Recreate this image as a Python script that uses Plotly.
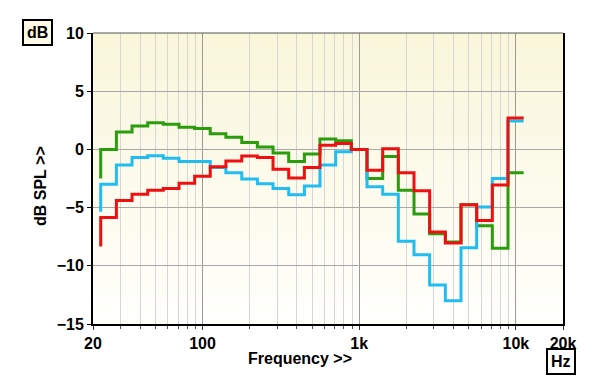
import plotly.graph_objects as go

# 1/3-octave band edges (Hz); first point is the start of the 25 Hz band
band_edges = [22.4, 28.2, 35.5, 44.7, 56.2, 70.8, 89.1, 112, 141, 178, 224, 282,
              355, 447, 562, 708, 891, 1122, 1413, 1778, 2239, 2818, 3548, 4467,
              5623, 7079, 8913, 11220]

# level (dB) — first value is the starting level, then bands 25 Hz ... 10 kHz
green_db = [-2.5, 0.0, 1.5, 2.0, 2.3, 2.15, 1.9, 1.8, 1.35, 1.05, 0.6, 0.2, -0.3,
            -1.05, -0.4, 0.9, 0.75, 0.0, -2.5, -0.6, -3.5, -5.55, -7.25, -7.95,
            -4.75, -6.55, -8.5, -2.0]
cyan_db = [-5.35, -3.0, -1.35, -0.7, -0.55, -0.75, -1.05, -1.05, -1.55, -2.0, -2.55,
           -2.95, -3.35, -3.9, -3.15, -1.35, -0.2, 0.0, -3.2, -3.85, -7.9, -9.05,
           -11.65, -13.0, -8.45, -4.95, -2.5, 2.45]
red_db = [-8.35, -5.85, -4.4, -3.85, -3.5, -3.35, -2.9, -2.3, -1.5, -1.0, -0.57,
          -0.7, -1.7, -2.45, -1.55, 0.35, 0.5, 0.0, -1.8, 0.05, -2.0, -3.55, -7.1,
          -8.05, -4.75, -6.1, -3.05, 2.7]

x_tickvals = [20, 100, 1000, 10000, 20000]
x_ticktext = ["20", "100", "1k", "10k", "20k"]
x_minor = [30, 40, 50, 60, 70, 80, 90, 200, 300, 400, 500, 600, 700, 800, 900,
           2000, 3000, 4000, 5000, 6000, 7000, 8000, 9000]
y_tickvals = [-15, -10, -5, 0, 5, 10]

series = [("green", green_db, "#2b9c0c"), ("cyan", cyan_db, "#22bdf0"),
          ("red", red_db, "#ee1010")]

fig = go.Figure()
for name, vals, col in series:
    fig.add_trace(go.Scatter(x=band_edges, y=vals, mode="lines", name=name,
                             line=dict(color=col, width=3, shape="vh"),
                             hoverinfo="skip"))

# background gradient
shapes = []
n = 30
top = (249, 246, 218)
bot = (255, 255, 252)
for i in range(n):
    t = i / (n - 1)
    c = tuple(round(top[k] + (bot[k] - top[k]) * t) for k in range(3))
    shapes.append(dict(type="rect", xref="paper", yref="paper", x0=0, x1=1,
                       y0=1 - (i + 1) / n, y1=1 - i / n, layer="below",
                       line=dict(width=0), fillcolor="rgb(%d,%d,%d)" % c))
shapes.append(dict(type="line", xref="paper", yref="paper", x0=0, x1=1, y0=1, y1=1,
                   line=dict(color="#555555", width=1)))

# plot area in screen pixels (page body has an 8px margin)
PX0, PX1, PY0, PY1 = 93, 563, 33, 324
def px(x):
    return (x - PX0) / (PX1 - PX0)
def py(y):
    return (PY1 - y) / (PY1 - PY0)

font = "Liberation Sans, Arial, sans-serif"
fig.update_layout(
    width=592, height=379,
    margin=dict(l=85, r=37, t=25, b=63),
    paper_bgcolor="white", plot_bgcolor="#fdfbea",
    showlegend=False,
    shapes=shapes,
    font=dict(family=font, size=16, color="black"),
    xaxis=dict(type="log", range=[1.30103, 4.30103],
               tickmode="array", tickvals=x_tickvals, ticktext=x_ticktext,
               tickfont=dict(family=font, size=16, color="black", weight="bold"),
               showgrid=True, gridcolor="#9a9a9a", gridwidth=1,
               ticks="outside", ticklen=4, tickcolor="#333333",
               showline=True, linecolor="black", linewidth=2, mirror=False,
               zeroline=False,
               minor=dict(tickmode="array", tickvals=x_minor, showgrid=True,
                          gridcolor="#d6d6d6", gridwidth=1, ticks="outside",
                          ticklen=3, tickcolor="#555555")),
    yaxis=dict(range=[-15, 10], tickmode="array", tickvals=y_tickvals,
               tickfont=dict(family=font, size=16, color="black", weight="bold"),
               showgrid=True, gridcolor="#a8a8a8", gridwidth=1,
               ticks="outside", ticklen=4, tickcolor="black",
               showline=True, linecolor="black", linewidth=2, mirror=True,
               zeroline=False),
    annotations=[
        dict(text="<b>dB SPL >></b>", xref="paper", yref="paper",
             x=px(40), y=py(186), textangle=-90,
             showarrow=False, xanchor="center", yanchor="middle",
             font=dict(size=16)),
        dict(text="<b>Frequency >></b>", xref="paper", yref="paper",
             x=px(300), y=py(358), showarrow=False,
             xanchor="center", yanchor="middle", font=dict(size=16)),
        dict(text="<b>dB</b>", xref="paper", yref="paper",
             x=px(37), y=py(32), showarrow=False,
             xanchor="center", yanchor="middle", font=dict(size=16),
             bordercolor="black", borderwidth=2, borderpad=3, bgcolor="#fdfbe6"),
        dict(text="<b>Hz</b>", xref="paper", yref="paper",
             x=px(561), y=py(361), showarrow=False,
             xanchor="center", yanchor="middle", font=dict(size=16),
             bordercolor="black", borderwidth=2, borderpad=3, bgcolor="white"),
    ],
)

fig.write_html("out.html")
